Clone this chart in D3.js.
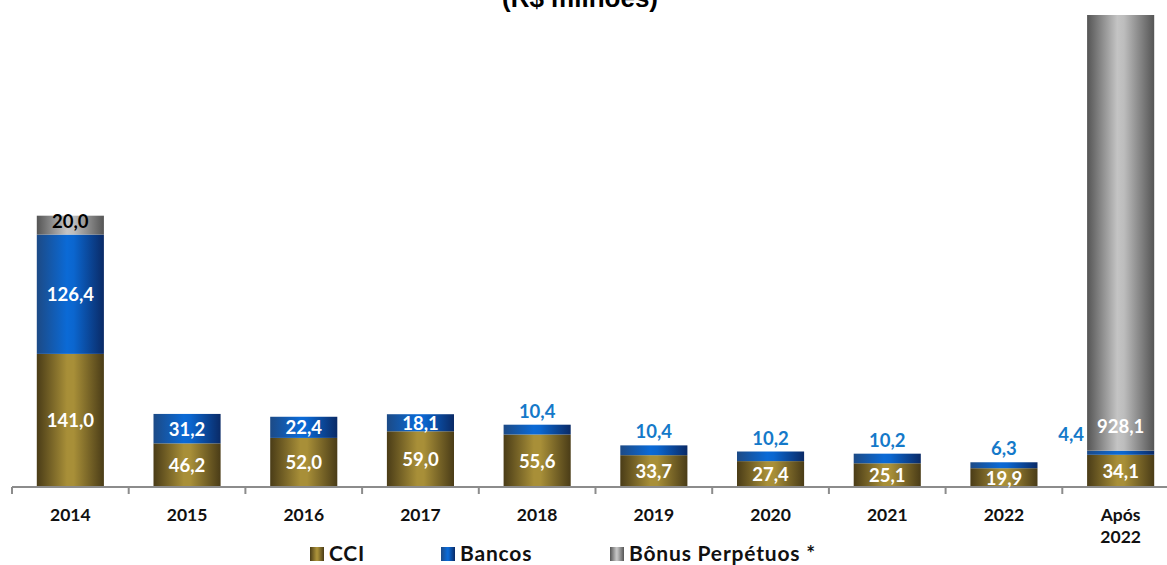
<!DOCTYPE html>
<html>
<head>
<meta charset="utf-8">
<script src="https://cdn.jsdelivr.net/npm/d3@7"></script>
<style>
  html, body { margin: 0; padding: 0; background: #fff; }
  svg { display: block; }
</style>
</head>
<body>
<svg id="chart" width="1167" height="565"></svg>
<script>
// Cronograma de amortização da dívida (R$ milhões)
const categories = ["2014", "2015", "2016", "2017", "2018", "2019", "2020", "2021", "2022", "Após 2022"];
const cci    = [141.0, 46.2, 52.0, 59.0, 55.6, 33.7, 27.4, 25.1, 19.9, 34.1];
const bancos = [126.4, 31.2, 22.4, 18.1, 10.4, 10.4, 10.2, 10.2, 6.3, 4.4];
const bonus  = [20.0, 0, 0, 0, 0, 0, 0, 0, 0, 928.1];
const seriesNames = ["CCI", "Bancos", "Bônus Perpétuos *"];
const yMax = 500;

const fmt = v => v.toFixed(1).replace(".", ",");

const svg = d3.select("#chart");
const W = 1167;

const x = d3.scaleBand().domain(categories).range([12, 1179]).paddingInner(0.425).paddingOuter(0.2125);
const y = d3.scaleLinear().domain([0, yMax]).range([487, 15]);

// horizontal "cylinder" gradients
const defs = svg.append("defs");
function grad(id, stops) {
  const g = defs.append("linearGradient").attr("id", id).attr("x1", "0%").attr("x2", "100%").attr("y1", "0%").attr("y2", "0%");
  stops.forEach(([o, c]) => g.append("stop").attr("offset", o).attr("stop-color", c));
}
grad("gCCI", [["0%", "#4a3c17"], ["45%", "#a88f38"], ["55%", "#a88f38"], ["100%", "#4a3c17"]]);
grad("gBan", [["0%", "#1c4a86"], ["45%", "#0b6ad6"], ["55%", "#0b66cf"], ["100%", "#0a2a66"]]);
grad("gBon", [["0%", "#555555"], ["45%", "#c4c4c4"], ["55%", "#bdbdbd"], ["100%", "#555555"]]);
const fills = ["url(#gCCI)", "url(#gBan)", "url(#gBon)"];

// clip so the tall last bar is cut off at the plot top
defs.append("clipPath").attr("id", "plotClip")
  .append("rect").attr("x", 0).attr("y", y(yMax)).attr("width", W).attr("height", y(0) - y(yMax) + 2);

// title (partially above the canvas)
svg.append("text")
  .attr("x", 580).attr("y", 7)
  .attr("text-anchor", "middle")
  .attr("font-family", "Liberation Sans, Arial, sans-serif")
  .attr("font-weight", "bold").attr("font-size", 26)
  .text("(R$ milhões)");

const rows = categories.map((c, i) => ({ cat: c, CCI: cci[i], Bancos: bancos[i], Bonus: bonus[i] }));
const stack = d3.stack().keys(["CCI", "Bancos", "Bonus"])(rows);

const gBars = svg.append("g").attr("clip-path", "url(#plotClip)");
stack.forEach((layer, si) => {
  gBars.selectAll(null).data(layer.filter(d => d[1] - d[0] > 0)).enter()
    .append("rect")
    .attr("x", d => x(d.data.cat))
    .attr("width", x.bandwidth())
    .attr("y", d => y(d[1]))
    .attr("height", d => y(d[0]) - y(d[1]))
    .attr("fill", fills[si]);
});

// axis
const axisY = 487;
svg.append("line").attr("x1", 12).attr("x2", W).attr("y1", axisY).attr("y2", axisY)
  .attr("stroke", "#8c8c8c").attr("stroke-width", 2);
const step = x.step();
d3.range(categories.length).forEach(i => {
  const tx = 12 + i * step;
  svg.append("line").attr("x1", tx).attr("x2", tx).attr("y1", axisY).attr("y2", axisY + 7)
    .attr("stroke", "#8c8c8c").attr("stroke-width", 2);
});

const font = "Lato, 'Open Sans', sans-serif";

// category labels
categories.forEach(c => {
  const cx = x(c) + x.bandwidth() / 2;
  const parts = c === "Após 2022" ? ["Após", "2022"] : [c];
  parts.forEach((p, k) => {
    svg.append("text").attr("x", cx).attr("y", 521 + k * 22)
      .attr("text-anchor", "middle").attr("font-family", font)
      .attr("font-weight", "bold").attr("font-size", 17.5).attr("fill", "#111")
      .text(p);
  });
});

// value labels
const lab = svg.append("g").attr("font-family", font).attr("font-weight", "bold").attr("font-size", 18.5);
rows.forEach((r, i) => {
  const cx = x(r.cat) + x.bandwidth() / 2;
  // CCI
  lab.append("text").attr("x", cx).attr("y", (y(0) + y(r.CCI)) / 2 + 7)
    .attr("text-anchor", "middle").attr("fill", "#fff").text(fmt(r.CCI));
  // Bancos
  const b0 = y(r.CCI), b1 = y(r.CCI + r.Bancos);
  if (i <= 3) {
    lab.append("text").attr("x", cx).attr("y", (b0 + b1) / 2 + 7)
      .attr("text-anchor", "middle").attr("fill", "#fff").text(fmt(r.Bancos));
  } else if (r.cat === "Após 2022") {
    lab.append("text").attr("x", x(r.cat) - 3).attr("y", b1 - 10)
      .attr("text-anchor", "end").attr("fill", "#1479c9").text(fmt(r.Bancos));
  } else {
    lab.append("text").attr("x", cx).attr("y", b1 - 7)
      .attr("text-anchor", "middle").attr("fill", "#1479c9").text(fmt(r.Bancos));
  }
  // Bônus
  if (r.Bonus > 0) {
    const top = y(r.CCI + r.Bancos + r.Bonus);
    if (r.cat === "2014") {
      lab.append("text").attr("x", cx).attr("y", top + 12)
        .attr("text-anchor", "middle").attr("fill", "#000").text(fmt(r.Bonus));
    } else {
      lab.append("text").attr("x", cx).attr("y", b1 - 18)
        .attr("text-anchor", "middle").attr("fill", "#fff").text(fmt(r.Bonus));
    }
  }
});

// legend
const legend = svg.append("g").attr("font-family", font).attr("font-weight", "bold").attr("font-size", 21).attr("letter-spacing", 0.8);
const legX = [310, 441, 610];
seriesNames.forEach((n, i) => {
  legend.append("rect").attr("x", legX[i]).attr("y", 547).attr("width", 14).attr("height", 14).attr("fill", fills[i]);
  legend.append("text").attr("x", legX[i] + 19).attr("y", 561).attr("fill", "#111").text(n);
});
</script>
</body>
</html>
